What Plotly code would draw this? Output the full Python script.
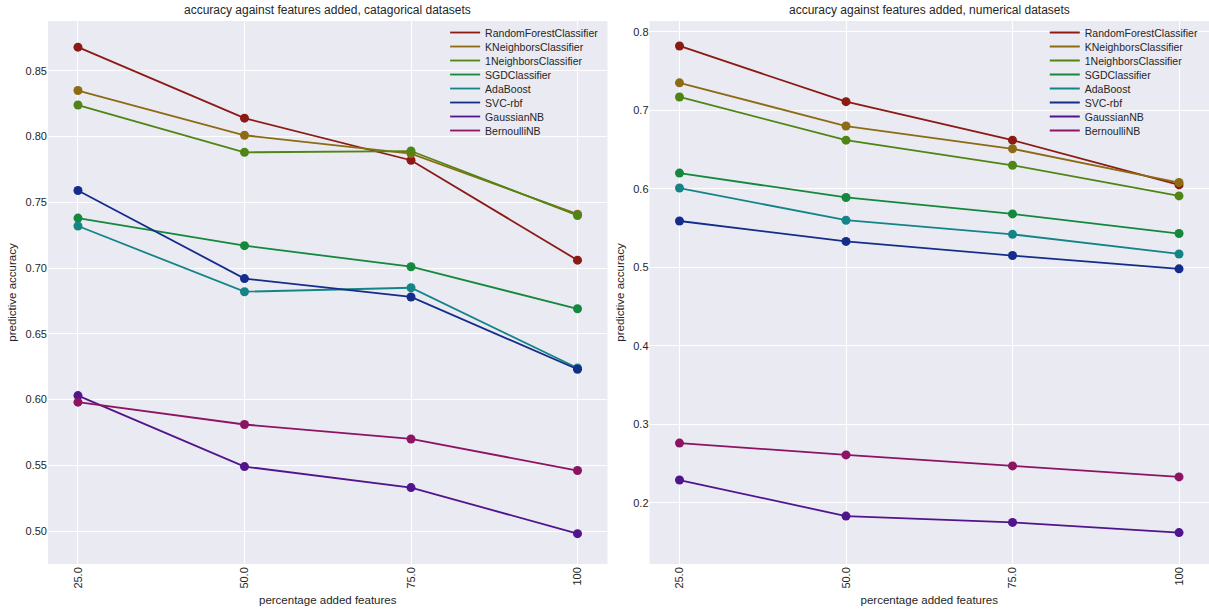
import plotly.graph_objects as go
from plotly.subplots import make_subplots

x_labels = ["25.0", "50.0", "75.0", "100"]
models = ["RandomForestClassifier", "KNeighborsClassifier", "1NeighborsClassifier",
          "SGDClassifier", "AdaBoost", "SVC-rbf", "GaussianNB", "BernoulliNB"]
colors = ["#8c1a14", "#8c6b14", "#4f8514", "#14883c", "#148487", "#142c8a", "#50148c", "#8c1462"]

# categorical datasets
cat_rf = [0.868, 0.814, 0.782, 0.706]
cat_kn = [0.835, 0.801, 0.787, 0.741]
cat_1n = [0.824, 0.788, 0.789, 0.740]
cat_sgd = [0.738, 0.717, 0.701, 0.669]
cat_ada = [0.732, 0.682, 0.685, 0.624]
cat_svc = [0.759, 0.692, 0.678, 0.623]
cat_gnb = [0.603, 0.549, 0.533, 0.498]
cat_bnb = [0.598, 0.581, 0.570, 0.546]

# numerical datasets
num_rf = [0.782, 0.711, 0.662, 0.605]
num_kn = [0.735, 0.680, 0.651, 0.608]
num_1n = [0.717, 0.662, 0.630, 0.591]
num_sgd = [0.620, 0.589, 0.568, 0.543]
num_ada = [0.601, 0.560, 0.542, 0.517]
num_svc = [0.559, 0.533, 0.515, 0.498]
num_gnb = [0.229, 0.183, 0.175, 0.162]
num_bnb = [0.276, 0.261, 0.247, 0.233]

cat_series = [cat_rf, cat_kn, cat_1n, cat_sgd, cat_ada, cat_svc, cat_gnb, cat_bnb]
num_series = [num_rf, num_kn, num_1n, num_sgd, num_ada, num_svc, num_gnb, num_bnb]

FONT = "Liberation Sans, Arial, sans-serif"
TXT = "#262626"

fig = make_subplots(rows=1, cols=2, horizontal_spacing=0.0362)

for col, (series, leg) in enumerate([(cat_series, "legend"), (num_series, "legend2")], start=1):
    for name, vals, c in zip(models, series, colors):
        fig.add_trace(go.Scatter(x=x_labels, y=vals, mode="lines", name=name,
                                 line=dict(color=c, width=1.8), legend=leg,
                                 showlegend=True), row=1, col=col)
        fig.add_trace(go.Scatter(x=x_labels, y=vals, mode="markers", name=name,
                                 marker=dict(color=c, size=9), legend=leg,
                                 showlegend=False, hoverinfo="skip"), row=1, col=col)

axis_common = dict(showgrid=True, gridcolor="white", gridwidth=1, zeroline=False,
                   showline=False, ticks="", automargin=False,
                   tickfont=dict(family=FONT, size=11, color=TXT))

fig.update_xaxes(type="category", range=[-0.18, 3.18], tickangle=-90,
                 title=dict(text="percentage added features", font=dict(family=FONT, size=11.5, color=TXT), standoff=8),
                 **axis_common)
fig.update_yaxes(title=dict(text="predictive accuracy", font=dict(family=FONT, size=11.5, color=TXT), standoff=6),
                 **axis_common)
fig.update_yaxes(range=[0.4749, 0.8879], dtick=0.05, tickformat=".2f", row=1, col=1)
fig.update_yaxes(range=[0.122, 0.8138], dtick=0.1, tickformat=".1f", row=1, col=2)

fig.update_layout(
    width=1209, height=612,
    margin=dict(l=48, r=0, t=21, b=48, autoexpand=False),
    paper_bgcolor="white", plot_bgcolor="#EAEAF2",
    font=dict(family=FONT, size=11, color=TXT),
    legend=dict(x=0.479, xanchor="right", y=1.0055, yanchor="top",
                bgcolor="rgba(0,0,0,0)", font=dict(family=FONT, size=10.5, color=TXT)),
    legend2=dict(x=0.9955, xanchor="right", y=1.0055, yanchor="top",
                 bgcolor="rgba(0,0,0,0)", font=dict(family=FONT, size=10.5, color=TXT)),
    annotations=[
        dict(text="accuracy against features added, catagorical datasets", xref="x domain", yref="paper",
             x=0.5, y=1, yshift=2, yanchor="bottom", showarrow=False, font=dict(family=FONT, size=12, color=TXT)),
        dict(text="accuracy against features added, numerical datasets", xref="x2 domain", yref="paper",
             x=0.5, y=1, yshift=2, yanchor="bottom", showarrow=False, font=dict(family=FONT, size=12, color=TXT)),
    ],
)

post = """
document.body.style.margin='0';
document.body.style.overflow='hidden';
document.querySelectorAll('g.legend, g.legend2').forEach(function(lg){
  var items = lg.querySelectorAll('g.traces');
  var y0 = null;
  items.forEach(function(t){
    var m = /translate\\(\\s*([-\\d.e]+)[ ,]+([-\\d.e]+)\\s*\\)/.exec(t.getAttribute('transform') || '');
    if (!m) return;
    var y = parseFloat(m[2]);
    if (y0 === null) y0 = y;
    t.setAttribute('transform', 'translate(' + m[1] + ',' + (y0 + (y - y0) * 14 / 19) + ')');
  });
});
"""

fig.write_html("out.html", post_script=post, config={"displayModeBar": False})
